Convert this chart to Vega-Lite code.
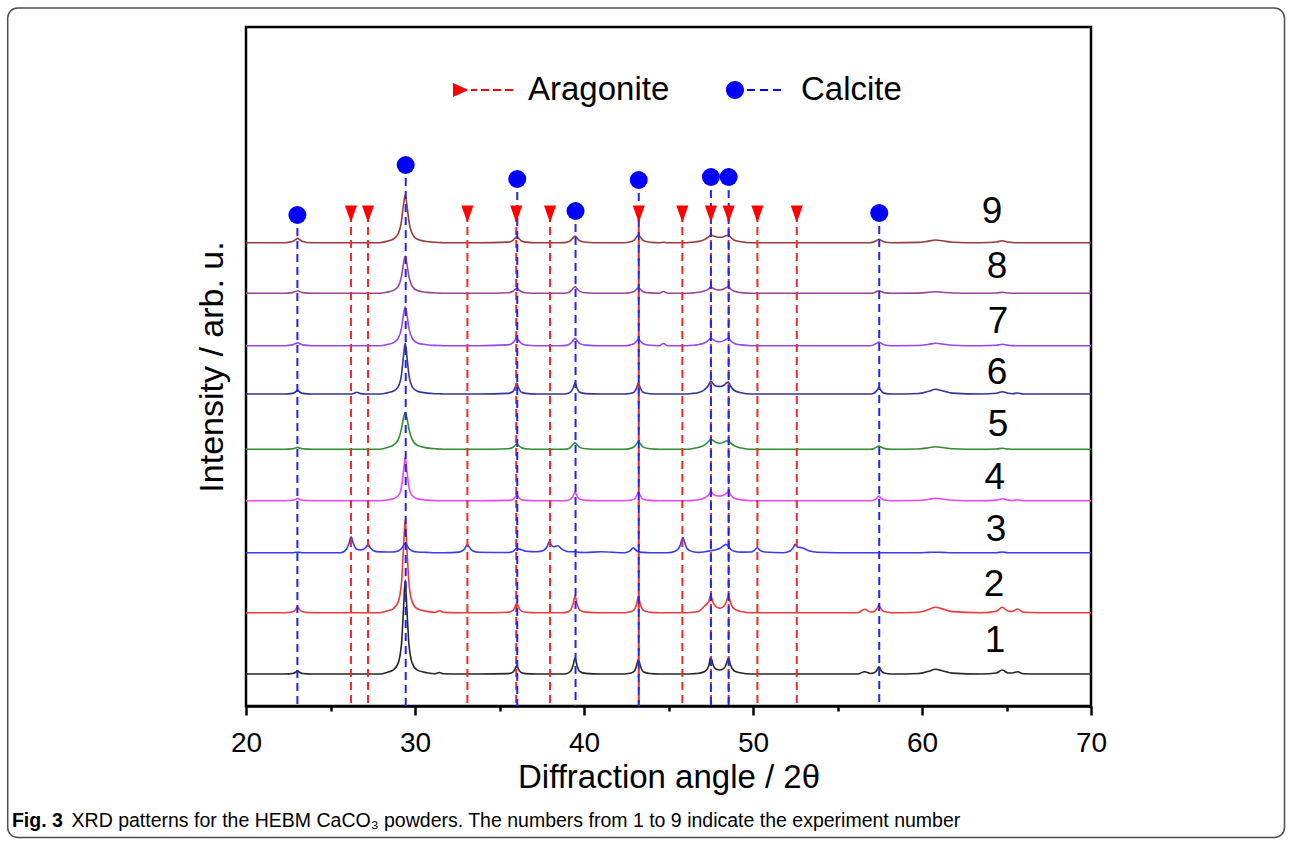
{
  "$schema": "https://vega.github.io/schema/vega-lite/v6.json",
  "width": 845,
  "height": 679,
  "autosize": {"type": "none"},
  "padding": {"left": 246, "top": 27, "right": 201, "bottom": 137},
  "background": "white",
  "config": {
    "font": "Liberation Sans",
    "view": {"stroke": "black", "strokeWidth": 2.5},
    "axis": {"grid": false}
  },
  "title": {
    "text": "Fig. 3",
    "subtitle": "\u200b\u00a0\u00a0\u00a0\u00a0\u00a0\u00a0\u00a0\u00a0\u00a0\u00a0\u00a0XRD patterns for the HEBM CaCO\u2083 powders. The numbers from 1 to 9 indicate the experiment number",
    "orient": "bottom",
    "anchor": "start",
    "frame": "bounds",
    "offset": -26,
    "dx": 5,
    "font": "Liberation Sans",
    "fontSize": 19.5,
    "fontWeight": "bold",
    "color": "black",
    "subtitleFont": "Liberation Sans",
    "subtitleFontSize": 19.5,
    "subtitleFontWeight": "normal",
    "subtitleColor": "black",
    "subtitlePadding": -19.5
  },
  "datasets": {
    "xrd": [
      {"angle":20,"s1":32,"s2":93.3,"s3":153.3,"s4":205.3,"s5":256.7,"s6":312,"s7":360.3,"s8":412.7,"s9":463.3},
      {"angle":22.3,"s1":32,"s2":93.3,"s3":153.3,"s4":205.3,"s5":256.7,"s6":312,"s7":360.3,"s8":412.7,"s9":463.3},
      {"angle":22.75,"s1":32.5,"s2":94.2,"s3":153.3,"s4":205.7,"s5":257.2,"s6":312.6,"s7":361.1,"s8":413.4,"s9":464.5},
      {"angle":22.93,"s1":33.7,"s2":96.3,"s3":153.6,"s4":206.5,"s5":258.1,"s6":314,"s7":362.4,"s8":414.5,"s9":466.3},
      {"angle":23.05,"s1":35.3,"s2":99.3,"s3":153.8,"s4":207.7,"s5":258.7,"s6":316,"s7":363.3,"s8":415.3,"s9":467.7},
      {"angle":23.17,"s1":33.7,"s2":96.3,"s3":153.6,"s4":206.5,"s5":258.1,"s6":314,"s7":362.4,"s8":414.5,"s9":466.3},
      {"angle":23.35,"s1":32.5,"s2":94.2,"s3":153.3,"s4":205.7,"s5":257.2,"s6":312.6,"s7":361.1,"s8":413.4,"s9":464.5},
      {"angle":23.9,"s1":32,"s2":93.3,"s3":153.3,"s4":205.3,"s5":256.7,"s6":312,"s7":360.3,"s8":412.7,"s9":463.3},
      {"angle":25.6,"s1":32,"s2":93.3,"s3":153.3,"s4":205.3,"s5":256.7,"s6":312,"s7":360.3,"s8":412.7,"s9":463.3},
      {"angle":25.95,"s1":32,"s2":93.3,"s3":157.1,"s4":205.3,"s5":256.7,"s6":312,"s7":360.3,"s8":412.7,"s9":463.3},
      {"angle":26.1,"s1":32,"s2":93.3,"s3":163.1,"s4":205.3,"s5":256.7,"s6":312,"s7":360.3,"s8":412.7,"s9":463.3},
      {"angle":26.22,"s1":32,"s2":93.3,"s3":169.3,"s4":205.3,"s5":256.7,"s6":312,"s7":360.3,"s8":412.7,"s9":463.3},
      {"angle":26.34,"s1":32,"s2":93.3,"s3":163.1,"s4":205.3,"s5":256.7,"s6":312.4,"s7":360.3,"s8":412.7,"s9":463.3},
      {"angle":26.55,"s1":32,"s2":93.3,"s3":156.8,"s4":205.3,"s5":256.7,"s6":313.8,"s7":360.3,"s8":412.7,"s9":463.3},
      {"angle":26.8,"s1":32,"s2":93.3,"s3":156.1,"s4":205.3,"s5":256.7,"s6":312.4,"s7":360.3,"s8":412.7,"s9":463.3},
      {"angle":27.05,"s1":32,"s2":93.3,"s3":157.8,"s4":205.3,"s5":256.7,"s6":312,"s7":360.3,"s8":412.7,"s9":463.3},
      {"angle":27.14,"s1":32,"s2":93.3,"s3":159.8,"s4":205.3,"s5":256.7,"s6":312,"s7":360.3,"s8":412.7,"s9":463.3},
      {"angle":27.22,"s1":32,"s2":93.3,"s3":161.9,"s4":205.3,"s5":256.7,"s6":312,"s7":360.3,"s8":412.7,"s9":463.3},
      {"angle":27.34,"s1":32,"s2":93.3,"s3":158.8,"s4":205.3,"s5":256.7,"s6":312,"s7":360.3,"s8":412.7,"s9":463.3},
      {"angle":27.55,"s1":32,"s2":93.3,"s3":155.3,"s4":205.3,"s5":256.7,"s6":312,"s7":360.3,"s8":412.7,"s9":463.3},
      {"angle":27.9,"s1":32,"s2":93.3,"s3":154.1,"s4":205.3,"s5":256.7,"s6":312,"s7":360.3,"s8":412.7,"s9":463.3},
      {"angle":28.4,"s1":34,"s2":95.3,"s3":154,"s4":206.2,"s5":258.8,"s6":313.4,"s7":361.7,"s8":414.1,"s9":465.1},
      {"angle":28.7,"s1":35.9,"s2":97.2,"s3":154,"s4":207.1,"s5":260.7,"s6":314.7,"s7":363.1,"s8":415.4,"s9":466.7},
      {"angle":29.0,"s1":42.6,"s2":103.9,"s3":155,"s4":210.2,"s5":266.2,"s6":319.2,"s7":367.5,"s8":419.5,"s9":472.1},
      {"angle":29.2,"s1":62.1,"s2":123.4,"s3":157.5,"s4":219.2,"s5":277.2,"s6":331.1,"s7":377.9,"s8":429.4,"s9":484.8},
      {"angle":29.32,"s1":96.9,"s2":158.2,"s3":160.8,"s4":235.2,"s5":288.2,"s6":349.9,"s7":391.5,"s8":442.3,"s9":501.5},
      {"angle":29.42,"s1":126,"s2":187.3,"s3":162.7,"s4":248.7,"s5":293.3,"s6":363,"s7":399.3,"s8":449.7,"s9":511},
      {"angle":29.52,"s1":96.9,"s2":158.2,"s3":160.8,"s4":235.2,"s5":288.2,"s6":349.9,"s7":391.5,"s8":442.3,"s9":501.5},
      {"angle":29.64,"s1":62.1,"s2":123.4,"s3":157.5,"s4":219.2,"s5":277.2,"s6":331.1,"s7":377.9,"s8":429.4,"s9":484.8},
      {"angle":29.84,"s1":42.6,"s2":103.9,"s3":155,"s4":210.2,"s5":266.2,"s6":319.2,"s7":367.5,"s8":419.5,"s9":472.1},
      {"angle":30.14,"s1":35.9,"s2":97.2,"s3":154,"s4":207.1,"s5":260.7,"s6":314.7,"s7":363.1,"s8":415.4,"s9":466.7},
      {"angle":30.7,"s1":33.3,"s2":94.6,"s3":153.6,"s4":205.9,"s5":258.1,"s6":312.9,"s7":361.3,"s8":413.6,"s9":464.5},
      {"angle":31.2,"s1":32.3,"s2":93.7,"s3":153.3,"s4":205.4,"s5":257.2,"s6":312.3,"s7":360.6,"s8":413,"s9":463.7},
      {"angle":31.45,"s1":33.5,"s2":95.3,"s3":153.3,"s4":205.3,"s5":257,"s6":312.2,"s7":360.5,"s8":412.9,"s9":463.5},
      {"angle":31.7,"s1":32.2,"s2":93.6,"s3":153.3,"s4":205.3,"s5":256.7,"s6":312,"s7":360.3,"s8":412.7,"s9":463.3},
      {"angle":32.6,"s1":32,"s2":93.3,"s3":153.9,"s4":205.3,"s5":256.7,"s6":312,"s7":360.3,"s8":412.7,"s9":463.3},
      {"angle":32.9,"s1":32,"s2":93.3,"s3":156.3,"s4":205.3,"s5":256.7,"s6":312,"s7":360.3,"s8":412.7,"s9":463.3},
      {"angle":33.0,"s1":32,"s2":93.3,"s3":159.1,"s4":205.3,"s5":256.7,"s6":312,"s7":360.3,"s8":412.7,"s9":463.3},
      {"angle":33.1,"s1":32,"s2":93.3,"s3":161.7,"s4":205.3,"s5":256.7,"s6":312,"s7":360.3,"s8":412.7,"s9":463.3},
      {"angle":33.2,"s1":32,"s2":93.3,"s3":159.1,"s4":205.3,"s5":256.7,"s6":312,"s7":360.3,"s8":412.7,"s9":463.3},
      {"angle":33.4,"s1":32,"s2":93.3,"s3":155.3,"s4":205.3,"s5":256.7,"s6":312,"s7":360.3,"s8":412.7,"s9":463.3},
      {"angle":33.8,"s1":32,"s2":93.3,"s3":153.8,"s4":205.3,"s5":256.7,"s6":312,"s7":360.3,"s8":412.7,"s9":463.3},
      {"angle":35.5,"s1":32.4,"s2":93.8,"s3":153.5,"s4":205.6,"s5":257.3,"s6":312.6,"s7":361.1,"s8":413.2,"s9":463.9},
      {"angle":35.8,"s1":33.9,"s2":95.6,"s3":154.5,"s4":206.6,"s5":258.8,"s6":314.5,"s7":363.3,"s8":414.7,"s9":465.7},
      {"angle":35.92,"s1":36.9,"s2":99.2,"s3":156.3,"s4":208.7,"s5":260.7,"s6":318.5,"s7":365.9,"s8":416.5,"s9":467.9},
      {"angle":36.02,"s1":40.3,"s2":103.3,"s3":158.3,"s4":211,"s5":262,"s6":323,"s7":367.7,"s8":417.7,"s9":469.3},
      {"angle":36.12,"s1":36.9,"s2":99.2,"s3":157.3,"s4":208.7,"s5":260.7,"s6":318.5,"s7":365.9,"s8":416.5,"s9":467.9},
      {"angle":36.3,"s1":33.3,"s2":94.9,"s3":156.3,"s4":206.2,"s5":258.2,"s6":313.7,"s7":362.4,"s8":414.2,"s9":465},
      {"angle":36.55,"s1":32.4,"s2":93.8,"s3":154.8,"s4":205.6,"s5":257.2,"s6":312.6,"s7":361,"s8":413.2,"s9":463.9},
      {"angle":37.2,"s1":32,"s2":93.3,"s3":154.3,"s4":205.3,"s5":256.7,"s6":312,"s7":360.3,"s8":412.7,"s9":463.3},
      {"angle":37.6,"s1":32,"s2":93.3,"s3":155.5,"s4":205.3,"s5":256.7,"s6":312,"s7":360.3,"s8":412.7,"s9":463.3},
      {"angle":37.82,"s1":32,"s2":93.3,"s3":159.5,"s4":205.3,"s5":256.7,"s6":312,"s7":360.3,"s8":412.7,"s9":463.3},
      {"angle":37.95,"s1":32,"s2":93.3,"s3":164.3,"s4":205.3,"s5":256.7,"s6":312,"s7":360.3,"s8":412.7,"s9":463.3},
      {"angle":38.08,"s1":32,"s2":93.3,"s3":160.5,"s4":205.3,"s5":256.7,"s6":312,"s7":360.3,"s8":412.7,"s9":463.3},
      {"angle":38.22,"s1":32,"s2":93.3,"s3":159.3,"s4":205.3,"s5":256.7,"s6":312,"s7":360.3,"s8":412.7,"s9":463.3},
      {"angle":38.45,"s1":32,"s2":93.3,"s3":160.3,"s4":205.3,"s5":256.7,"s6":312,"s7":360.3,"s8":412.7,"s9":463.3},
      {"angle":38.65,"s1":32,"s2":93.3,"s3":157.3,"s4":205.3,"s5":256.7,"s6":312,"s7":360.3,"s8":412.7,"s9":463.3},
      {"angle":38.95,"s1":32.3,"s2":93.6,"s3":154.8,"s4":205.4,"s5":256.9,"s6":312.2,"s7":360.6,"s8":413,"s9":463.6},
      {"angle":39.2,"s1":34.7,"s2":96.1,"s3":154.2,"s4":206.8,"s5":258.7,"s6":313.8,"s7":362.6,"s8":414.7,"s9":465.4},
      {"angle":39.37,"s1":41.6,"s2":103.3,"s3":154.2,"s4":210.6,"s5":261.7,"s6":318.5,"s7":365.9,"s8":417.7,"s9":468.4},
      {"angle":39.47,"s1":48.3,"s2":110.3,"s3":154.4,"s4":214.3,"s5":263.3,"s6":323,"s7":367.7,"s8":419.3,"s9":470},
      {"angle":39.57,"s1":41.6,"s2":103.3,"s3":154,"s4":210.6,"s5":261.7,"s6":318.5,"s7":365.9,"s8":417.7,"s9":468.4},
      {"angle":39.75,"s1":34.5,"s2":95.9,"s3":153.6,"s4":206.7,"s5":258.6,"s6":313.7,"s7":362.4,"s8":414.6,"s9":465.2},
      {"angle":40.1,"s1":32.6,"s2":93.9,"s3":153.5,"s4":205.6,"s5":257.2,"s6":312.4,"s7":360.9,"s8":413.2,"s9":463.8},
      {"angle":41.0,"s1":32,"s2":93.3,"s3":154.3,"s4":205.3,"s5":256.7,"s6":312,"s7":360.3,"s8":412.7,"s9":463.3},
      {"angle":42.4,"s1":32,"s2":93.3,"s3":153.3,"s4":205.3,"s5":256.7,"s6":312,"s7":360.3,"s8":412.7,"s9":463.3},
      {"angle":42.7,"s1":32.7,"s2":94.1,"s3":154.9,"s4":205.7,"s5":257.4,"s6":312.5,"s7":360.9,"s8":413.2,"s9":464},
      {"angle":42.82,"s1":33.2,"s2":94.6,"s3":156.8,"s4":206,"s5":258,"s6":312.9,"s7":361.4,"s8":413.7,"s9":464.6},
      {"angle":42.92,"s1":34.1,"s2":95.5,"s3":158.3,"s4":206.6,"s5":258.7,"s6":313.5,"s7":362,"s8":414.2,"s9":465.3},
      {"angle":43.02,"s1":35.9,"s2":97.5,"s3":156.8,"s4":207.6,"s5":260.1,"s6":314.9,"s7":363.2,"s8":415.2,"s9":466.8},
      {"angle":43.12,"s1":40.9,"s2":102.7,"s3":155.1,"s4":210.6,"s5":262.5,"s6":318.5,"s7":365.2,"s8":417,"s9":469.2},
      {"angle":43.22,"s1":47,"s2":109.3,"s3":154.3,"s4":214.3,"s5":264.3,"s6":323,"s7":366.7,"s8":418.3,"s9":471},
      {"angle":43.32,"s1":40.9,"s2":102.7,"s3":153.9,"s4":210.6,"s5":262.5,"s6":318.5,"s7":365.2,"s8":417,"s9":469.2},
      {"angle":43.5,"s1":34.3,"s2":95.8,"s3":153.6,"s4":206.7,"s5":258.9,"s6":313.7,"s7":362.2,"s8":414.3,"s9":465.5},
      {"angle":43.9,"s1":32.5,"s2":93.8,"s3":153.3,"s4":205.6,"s5":257.2,"s6":312.3,"s7":360.7,"s8":413.1,"s9":463.8},
      {"angle":44.45,"s1":32,"s2":93.3,"s3":153.3,"s4":205.3,"s5":256.7,"s6":312,"s7":360.3,"s8":412.7,"s9":463.3},
      {"angle":44.7,"s1":32,"s2":93.3,"s3":153.3,"s4":205.3,"s5":256.7,"s6":312,"s7":362.5,"s8":414.5,"s9":463.8},
      {"angle":44.95,"s1":32,"s2":93.3,"s3":153.3,"s4":205.3,"s5":256.7,"s6":312,"s7":360.3,"s8":412.7,"s9":463.3},
      {"angle":45.4,"s1":32,"s2":93.3,"s3":154.8,"s4":205.3,"s5":256.7,"s6":312,"s7":360.3,"s8":412.7,"s9":463.3},
      {"angle":45.65,"s1":32,"s2":93.3,"s3":158.8,"s4":205.3,"s5":256.7,"s6":312,"s7":360.3,"s8":412.7,"s9":463.3},
      {"angle":45.75,"s1":32,"s2":93.3,"s3":163.9,"s4":205.3,"s5":256.7,"s6":312,"s7":360.3,"s8":412.7,"s9":463.3},
      {"angle":45.85,"s1":32,"s2":93.3,"s3":168.7,"s4":205.3,"s5":256.7,"s6":312,"s7":360.3,"s8":412.7,"s9":463.3},
      {"angle":45.95,"s1":32,"s2":93.3,"s3":163.9,"s4":205.3,"s5":256.7,"s6":312,"s7":360.3,"s8":412.7,"s9":463.3},
      {"angle":46.1,"s1":32,"s2":93.3,"s3":157.4,"s4":205.3,"s5":256.7,"s6":312,"s7":360.3,"s8":412.7,"s9":463.3},
      {"angle":46.45,"s1":32.3,"s2":93.7,"s3":154.2,"s4":205.6,"s5":257.5,"s6":312.6,"s7":360.7,"s8":413.1,"s9":463.8},
      {"angle":46.8,"s1":32.8,"s2":94.8,"s3":153.6,"s4":206.3,"s5":258.7,"s6":313.5,"s7":361.5,"s8":413.7,"s9":464.6},
      {"angle":47.15,"s1":34.5,"s2":100.3,"s3":154.3,"s4":208.3,"s5":261.2,"s6":316.5,"s7":363.3,"s8":415.2,"s9":466.6},
      {"angle":47.38,"s1":40,"s2":104.3,"s3":154.9,"s4":211.3,"s5":264.7,"s6":321,"s7":365.8,"s8":417.2,"s9":469.3},
      {"angle":47.5,"s1":49,"s2":111,"s3":155.3,"s4":214.3,"s5":266.7,"s6":325,"s7":367.7,"s8":418.7,"s9":471},
      {"angle":47.62,"s1":42,"s2":104.3,"s3":155.6,"s4":212.3,"s5":265.7,"s6":322.5,"s7":366.6,"s8":417.9,"s9":470.3},
      {"angle":47.8,"s1":37,"s2":99.3,"s3":156.3,"s4":210.3,"s5":263.7,"s6":320,"s7":364.8,"s8":416.5,"s9":469.3},
      {"angle":48.05,"s1":36,"s2":97.7,"s3":157.7,"s4":210,"s5":262.7,"s6":319.5,"s7":364.3,"s8":416,"s9":468.7},
      {"angle":48.3,"s1":38,"s2":100.3,"s3":160.8,"s4":211.3,"s5":264.2,"s6":321,"s7":365.6,"s8":417.2,"s9":469.6},
      {"angle":48.42,"s1":42,"s2":104.3,"s3":161.7,"s4":212.8,"s5":265,"s6":323,"s7":366.8,"s8":418.5,"s9":470.5},
      {"angle":48.55,"s1":48,"s2":110,"s3":159.3,"s4":214.3,"s5":265.3,"s6":324,"s7":367.7,"s8":419.3,"s9":471},
      {"angle":48.67,"s1":41,"s2":103.3,"s3":156.8,"s4":211.3,"s5":263.2,"s6":320,"s7":365.3,"s8":417.2,"s9":468.8},
      {"angle":48.9,"s1":35,"s2":96.8,"s3":154.8,"s4":207.8,"s5":260.2,"s6":315.5,"s7":362.5,"s8":414.7,"s9":465.8},
      {"angle":49.3,"s1":33,"s2":94.5,"s3":153.9,"s4":206.1,"s5":258,"s6":313.2,"s7":361.1,"s8":413.4,"s9":464.2},
      {"angle":49.9,"s1":32,"s2":93.3,"s3":154,"s4":205.3,"s5":256.7,"s6":312,"s7":360.3,"s8":412.7,"s9":463.3},
      {"angle":50.1,"s1":32,"s2":93.3,"s3":155.8,"s4":205.3,"s5":256.7,"s6":312,"s7":360.3,"s8":412.7,"s9":463.3},
      {"angle":50.25,"s1":32,"s2":93.3,"s3":158.3,"s4":205.3,"s5":256.7,"s6":312,"s7":360.3,"s8":412.7,"s9":463.3},
      {"angle":50.4,"s1":32,"s2":93.3,"s3":155.8,"s4":205.3,"s5":256.7,"s6":312,"s7":360.3,"s8":412.7,"s9":463.3},
      {"angle":50.7,"s1":32,"s2":93.3,"s3":154,"s4":205.3,"s5":256.7,"s6":312,"s7":360.3,"s8":412.7,"s9":463.3},
      {"angle":51.8,"s1":32,"s2":93.3,"s3":153.3,"s4":205.3,"s5":256.7,"s6":312,"s7":360.3,"s8":412.7,"s9":463.3},
      {"angle":52.2,"s1":32,"s2":93.3,"s3":155,"s4":205.3,"s5":256.7,"s6":312,"s7":360.3,"s8":412.7,"s9":463.3},
      {"angle":52.38,"s1":32,"s2":93.3,"s3":158.4,"s4":205.3,"s5":256.7,"s6":312,"s7":360.3,"s8":412.7,"s9":463.3},
      {"angle":52.5,"s1":32,"s2":93.3,"s3":161.7,"s4":205.3,"s5":256.7,"s6":312,"s7":360.3,"s8":412.7,"s9":463.3},
      {"angle":52.62,"s1":32,"s2":93.3,"s3":159,"s4":205.3,"s5":256.7,"s6":312,"s7":360.3,"s8":412.7,"s9":463.3},
      {"angle":52.9,"s1":32,"s2":93.3,"s3":158.3,"s4":205.3,"s5":256.7,"s6":312,"s7":360.3,"s8":412.7,"s9":463.3},
      {"angle":53.3,"s1":32,"s2":93.3,"s3":155.3,"s4":205.3,"s5":256.7,"s6":312,"s7":360.3,"s8":412.7,"s9":463.3},
      {"angle":53.8,"s1":32,"s2":93.3,"s3":153.8,"s4":205.3,"s5":256.7,"s6":312,"s7":360.3,"s8":412.7,"s9":463.3},
      {"angle":56.2,"s1":32,"s2":93.3,"s3":153.3,"s4":205.3,"s5":256.7,"s6":312,"s7":360.3,"s8":412.7,"s9":463.3},
      {"angle":56.6,"s1":34.3,"s2":96.7,"s3":153.3,"s4":205.3,"s5":256.7,"s6":312,"s7":360.3,"s8":412.7,"s9":463.3},
      {"angle":56.95,"s1":32.5,"s2":94,"s3":153.3,"s4":205.3,"s5":256.7,"s6":312,"s7":360.3,"s8":412.7,"s9":463.3},
      {"angle":57.2,"s1":33.4,"s2":94.8,"s3":153.3,"s4":206.2,"s5":257.8,"s6":313.3,"s7":361.6,"s8":413.6,"s9":464.5},
      {"angle":57.35,"s1":36.3,"s2":97.8,"s3":153.3,"s4":208.1,"s5":259.2,"s6":316,"s7":363.1,"s8":414.7,"s9":465.9},
      {"angle":57.45,"s1":39.3,"s2":101,"s3":153.3,"s4":210,"s5":260,"s6":318.7,"s7":364,"s8":415.3,"s9":466.7},
      {"angle":57.55,"s1":36.3,"s2":97.8,"s3":153.3,"s4":208.1,"s5":259.2,"s6":316,"s7":363.1,"s8":414.7,"s9":465.9},
      {"angle":57.75,"s1":33,"s2":94.4,"s3":153.3,"s4":206,"s5":257.6,"s6":312.9,"s7":361.3,"s8":413.4,"s9":464.2},
      {"angle":58.2,"s1":32,"s2":93.3,"s3":153.3,"s4":205.3,"s5":256.7,"s6":312,"s7":360.3,"s8":412.7,"s9":463.3},
      {"angle":59.8,"s1":32.5,"s2":93.8,"s3":153.3,"s4":205.5,"s5":257,"s6":312.5,"s7":360.5,"s8":412.9,"s9":463.6},
      {"angle":60.4,"s1":34.8,"s2":96.5,"s3":153.6,"s4":206.7,"s5":258.3,"s6":314.8,"s7":361.7,"s8":413.7,"s9":464.9},
      {"angle":60.8,"s1":36.7,"s2":98.7,"s3":153.8,"s4":207.7,"s5":259.3,"s6":316.7,"s7":362.7,"s8":414.3,"s9":466},
      {"angle":61.2,"s1":35.3,"s2":97.1,"s3":153.6,"s4":207,"s5":258.5,"s6":315.3,"s7":362,"s8":413.8,"s9":465.2},
      {"angle":61.8,"s1":32.9,"s2":94.4,"s3":153.3,"s4":205.8,"s5":257.2,"s6":312.9,"s7":360.8,"s8":413,"s9":463.8},
      {"angle":63.5,"s1":32,"s2":93.3,"s3":153.3,"s4":205.3,"s5":256.7,"s6":312,"s7":360.3,"s8":412.7,"s9":463.3},
      {"angle":64.4,"s1":33,"s2":94.8,"s3":153.3,"s4":205.9,"s5":257,"s6":312.7,"s7":360.7,"s8":413,"s9":464},
      {"angle":64.75,"s1":36,"s2":98.7,"s3":154,"s4":207.3,"s5":257.7,"s6":314.3,"s7":361.8,"s8":413.7,"s9":465.3},
      {"angle":65.1,"s1":33,"s2":94.8,"s3":153.3,"s4":205.9,"s5":257,"s6":312.7,"s7":360.7,"s8":413,"s9":464},
      {"angle":65.35,"s1":33,"s2":94.6,"s3":153.3,"s4":205.5,"s5":256.8,"s6":312.3,"s7":360.4,"s8":412.8,"s9":463.5},
      {"angle":65.65,"s1":34.3,"s2":97,"s3":153.3,"s4":206.3,"s5":256.7,"s6":313,"s7":360.3,"s8":412.7,"s9":463.3},
      {"angle":66.0,"s1":32.3,"s2":93.7,"s3":153.3,"s4":205.3,"s5":256.7,"s6":312,"s7":360.3,"s8":412.7,"s9":463.3},
      {"angle":67.0,"s1":32,"s2":93.3,"s3":153.3,"s4":205.3,"s5":256.7,"s6":312,"s7":360.3,"s8":412.7,"s9":463.3},
      {"angle":70.0,"s1":32,"s2":93.3,"s3":153.3,"s4":205.3,"s5":256.7,"s6":312,"s7":360.3,"s8":412.7,"s9":463.3}
    ],
    "markers": [
      {"phase":"Aragonite","angle":26.21,"intensity":492},
      {"phase":"Aragonite","angle":27.22,"intensity":492},
      {"phase":"Aragonite","angle":33.1,"intensity":492},
      {"phase":"Aragonite","angle":35.99,"intensity":492},
      {"phase":"Aragonite","angle":37.99,"intensity":492},
      {"phase":"Aragonite","angle":43.24,"intensity":492},
      {"phase":"Aragonite","angle":45.82,"intensity":492},
      {"phase":"Aragonite","angle":47.51,"intensity":492},
      {"phase":"Aragonite","angle":48.56,"intensity":492},
      {"phase":"Aragonite","angle":50.26,"intensity":492},
      {"phase":"Aragonite","angle":52.59,"intensity":492},
      {"phase":"Calcite","angle":23.04,"intensity":491},
      {"phase":"Calcite","angle":29.45,"intensity":541},
      {"phase":"Calcite","angle":36.05,"intensity":527},
      {"phase":"Calcite","angle":39.5,"intensity":495},
      {"phase":"Calcite","angle":43.24,"intensity":526},
      {"phase":"Calcite","angle":47.51,"intensity":529},
      {"phase":"Calcite","angle":48.56,"intensity":529},
      {"phase":"Calcite","angle":57.47,"intensity":493}
    ],
    "labels": [
      {"label":"1","angle":64.32,"intensity":65},
      {"label":"2","angle":64.26,"intensity":121},
      {"label":"3","angle":64.38,"intensity":176},
      {"label":"4","angle":64.3,"intensity":228.5},
      {"label":"5","angle":64.5,"intensity":281.5},
      {"label":"6","angle":64.44,"intensity":333.5},
      {"label":"7","angle":64.5,"intensity":384},
      {"label":"8","angle":64.44,"intensity":439},
      {"label":"9","angle":64.14,"intensity":494}
    ]
  },
  "resolve": {"scale": {"color": "independent", "shape": "independent"}},
  "layer": [
    {
      "data": {"values": [{}]},
      "mark": {"type": "rect", "filled": false, "stroke": "#4d4d4d", "strokeWidth": 1.5, "cornerRadius": 10},
      "encoding": {
        "x": {"datum": 5.9, "type": "quantitative", "scale": {"domain": [20, 70], "nice": false, "zero": false}},
        "x2": {"datum": 81.45},
        "y": {"datum": -131.5, "type": "quantitative", "scale": {"domain": [0, 679], "nice": false}},
        "y2": {"datum": 698}
      }
    },
    {
      "data": {"name": "xrd"},
      "transform": [{"fold": ["s1", "s2", "s3", "s4", "s5", "s6", "s7", "s8", "s9"], "as": ["exp", "intensity"]}],
      "mark": {"type": "line", "interpolate": "monotone", "strokeWidth": 1.6},
      "encoding": {
        "x": {
          "field": "angle", "type": "quantitative",
          "scale": {"domain": [20, 70], "nice": false, "zero": false},
          "axis": {
            "title": "Diffraction angle / 2\u03b8",
            "values": [20, 25, 30, 35, 40, 45, 50, 55, 60, 65, 70],
            "labelExpr": "datum.value % 10 === 0 ? datum.label : ''",
            "tickSize": {"condition": {"test": "datum.value % 10 === 0", "value": 9}, "value": 5},
            "tickWidth": 2.5, "tickColor": "black",
            "domainColor": "black", "domainWidth": 2.5,
            "labelFontSize": 28, "labelColor": "black", "labelFont": "Liberation Sans",
            "labelPadding": 14, "labelOverlap": false, "labelFlush": false,
            "titleFontSize": 33, "titleFontWeight": "normal", "titleColor": "black", "titleFont": "Liberation Sans",
            "titlePadding": 4, "grid": false
          }
        },
        "y": {
          "field": "intensity", "type": "quantitative",
          "scale": {"domain": [0, 679], "nice": false},
          "axis": {
            "title": "Intensity / arb. u.", "ticks": false, "labels": false, "domain": false, "grid": false,
            "titleFontSize": 34, "titleFontWeight": "normal", "titleColor": "black", "titleFont": "Liberation Sans",
            "titlePadding": 17
          }
        },
        "color": {
          "field": "exp", "type": "nominal",
          "scale": {"domain": ["s1", "s2", "s3", "s4", "s5", "s6", "s7", "s8", "s9"],
                    "range": ["#262626", "#ee3a3a", "#3a3aee", "#ee44ee", "#2f8f2f", "#333399", "#9944ee", "#994499", "#993a3a"]},
          "legend": null
        }
      }
    },
    {
      "data": {"name": "markers"},
      "mark": {"type": "rule", "strokeDash": [8, 5], "strokeWidth": 2},
      "encoding": {
        "x": {"field": "angle", "type": "quantitative", "scale": {"domain": [20, 70], "nice": false, "zero": false}},
        "y": {"field": "intensity", "type": "quantitative", "scale": {"domain": [0, 679], "nice": false}},
        "y2": {"datum": 0},
        "color": {"field": "phase", "type": "nominal", "scale": {"domain": ["Aragonite", "Calcite"], "range": ["#ee2a2a", "#2424ee"]}, "legend": null}
      }
    },
    {
      "data": {"name": "markers"},
      "mark": {"type": "point", "filled": true, "opacity": 1, "size": 324, "strokeWidth": 0},
      "encoding": {
        "x": {"field": "angle", "type": "quantitative", "scale": {"domain": [20, 70], "nice": false, "zero": false}},
        "y": {"field": "intensity", "type": "quantitative", "scale": {"domain": [0, 679], "nice": false}},
        "color": {"field": "phase", "type": "nominal", "scale": {"domain": ["Aragonite", "Calcite"], "range": ["#ff0000", "#0000ff"]}, "legend": null},
        "shape": {"field": "phase", "type": "nominal", "scale": {"domain": ["Aragonite", "Calcite"], "range": ["M-0.67,-0.95L0.67,-0.95L0,0.95Z", "circle"]}, "legend": null}
      }
    },
    {
      "data": {"name": "markers"},
      "mark": {"type": "point", "filled": true, "opacity": 0, "size": 3600, "strokeWidth": 0},
      "encoding": {
        "x": {"field": "angle", "type": "quantitative", "scale": {"domain": [20, 70], "nice": false, "zero": false}},
        "y": {"field": "intensity", "type": "quantitative", "scale": {"domain": [0, 679], "nice": false}},
        "color": {
          "field": "phase", "type": "nominal",
          "scale": {"domain": ["Aragonite", "Calcite"], "range": ["#ff0000", "#0000ff"]},
          "legend": {
            "orient": "none", "legendX": 207, "legendY": 33, "direction": "horizontal", "title": null,
            "labelFontSize": 33, "labelFont": "Liberation Sans", "labelColor": "black",
            "symbolSize": 3600, "symbolStrokeWidth": 0, "symbolOpacity": 1,
            "labelOffset": 15, "columnPadding": 55, "padding": 0, "labelLimit": 300
          }
        },
        "shape": {
          "field": "phase", "type": "nominal",
          "scale": {"domain": ["Aragonite", "Calcite"], "range": [
            "M-1,-0.23L-0.48,0L-1,0.23Z M-0.4,-0.035H-0.2V0.035H-0.4Z M-0.067,-0.035H0.2V0.035H-0.067Z M0.333,-0.035H0.6V0.035H0.333Z M0.733,-0.035H1V0.035H0.733Z",
            "M-1,0A0.3,0.3,0,1,0,-0.4,0A0.3,0.3,0,1,0,-1,0Z M-0.3,-0.035H-0.033V0.035H-0.3Z M0.133,-0.035H0.4V0.035H0.133Z M0.567,-0.035H0.833V0.035H0.567Z"
          ]},
          "legend": {
            "orient": "none", "legendX": 207, "legendY": 33, "direction": "horizontal", "title": null,
            "labelFontSize": 33, "labelFont": "Liberation Sans", "labelColor": "black",
            "symbolSize": 3600, "symbolStrokeWidth": 0, "symbolOpacity": 1,
            "labelOffset": 15, "columnPadding": 55, "padding": 0, "labelLimit": 300
          }
        }
      }
    },
    {
      "data": {"name": "labels"},
      "mark": {"type": "text", "fontSize": 37, "font": "Liberation Sans", "align": "center", "baseline": "middle", "color": "black"},
      "encoding": {
        "x": {"field": "angle", "type": "quantitative", "scale": {"domain": [20, 70], "nice": false, "zero": false}},
        "y": {"field": "intensity", "type": "quantitative", "scale": {"domain": [0, 679], "nice": false}},
        "text": {"field": "label"}
      }
    }
  ]
}
